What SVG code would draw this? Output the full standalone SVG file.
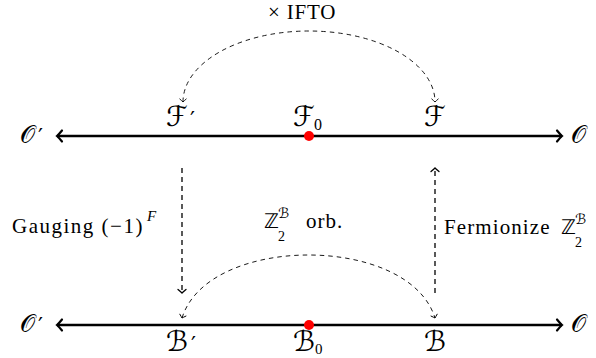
<svg xmlns="http://www.w3.org/2000/svg" width="596" height="358" viewBox="0 0 596 358">
<defs>
<style>
.main{stroke:#000;stroke-width:2.4;fill:none;}
.vdash{stroke:#000;stroke-width:1.3;fill:none;stroke-dasharray:5 4;}
.arc{stroke:#000;stroke-width:0.9;fill:none;stroke-dasharray:4.5 4;}
.rm{font-family:'Liberation Serif','DejaVu Serif',serif;fill:#000;}
.sc{font-family:'DejaVu Serif','DejaVu Sans',serif;fill:#000;}
.pr{font-family:'DejaVu Sans',sans-serif;fill:#000;}
.bb{font-family:'DejaVu Sans',sans-serif;fill:#000;}
</style>
<marker id="big" markerUnits="userSpaceOnUse" markerWidth="14" markerHeight="16" refX="0" refY="0" viewBox="-8 -8 10 16" orient="auto-start-reverse">
<path d="M -5 -5.5 Q -1.8 -1.6 0 0 Q -1.8 1.6 -5 5.5" fill="none" stroke="#000" stroke-width="2.2" stroke-linecap="round"/>
</marker>
<marker id="mid" markerUnits="userSpaceOnUse" markerWidth="10" markerHeight="12" refX="0" refY="0" viewBox="-6 -6 8 12" orient="auto-start-reverse">
<path d="M -3.5 -4 Q -1.2 -1.2 0 0 Q -1.2 1.2 -3.5 4" fill="none" stroke="#000" stroke-width="1.3" stroke-linecap="round"/>
</marker>
<marker id="sm" markerUnits="userSpaceOnUse" markerWidth="10" markerHeight="10" refX="0" refY="0" viewBox="-5 -5 7 10" orient="auto-start-reverse">
<path d="M -3 -3.2 Q -1 -1 0 0 Q -1 1 -3 3.2" fill="none" stroke="#000" stroke-width="0.9" stroke-linecap="round"/>
</marker>
</defs>
<rect width="596" height="358" fill="#fff"/>

<g id="connectors">
<path class="main" d="M 57 136 L 562 136" marker-start="url(#big)" marker-end="url(#big)"/>
<path class="main" d="M 57 325 L 562 325" marker-start="url(#big)" marker-end="url(#big)"/>
<path class="arc" d="M 183 102 A 126 71 0 0 1 435 102" marker-start="url(#sm)" marker-end="url(#sm)"/>
<path class="arc" d="M 182 318 C 208 234 409 234 435 318" marker-start="url(#sm)" marker-end="url(#sm)"/>
<path class="vdash" d="M 182 168 L 182 293" marker-end="url(#mid)"/>
<path class="vdash" d="M 435 293 L 435 168" marker-end="url(#mid)"/>
</g>

<g id="dot-F0"><circle cx="309" cy="136" r="5" fill="#ff0000"/></g>
<g id="dot-B0"><circle cx="309" cy="325" r="5" fill="#ff0000"/></g>

<g id="Oprime-top"><text class="sc" x="20" y="143" font-size="24">𝒪</text><text class="pr" x="38" y="144" font-size="22">′</text></g>
<g id="O-top"><text class="sc" x="571" y="143" font-size="24">𝒪</text></g>
<g id="Fprime"><text class="sc" x="166" y="126" font-size="28">ℱ</text><text class="pr" x="190" y="127" font-size="22">′</text></g>
<g id="F0"><text class="sc" x="293" y="126" font-size="28">ℱ</text><text class="rm" x="314" y="130" font-size="16">0</text></g>
<g id="F"><text class="sc" x="435" y="126" font-size="28" text-anchor="middle">ℱ</text></g>

<g id="Oprime-bot"><text class="sc" x="20" y="332" font-size="24">𝒪</text><text class="pr" x="38" y="333" font-size="22">′</text></g>
<g id="O-bot"><text class="sc" x="571" y="332" font-size="24">𝒪</text></g>
<g id="Bprime"><text class="sc" x="166" y="351" font-size="28">ℬ</text><text class="pr" x="191" y="352" font-size="22">′</text></g>
<g id="B0"><text class="sc" x="293" y="351" font-size="28">ℬ</text><text class="rm" x="315" y="354" font-size="15">0</text></g>
<g id="B"><text class="sc" x="435" y="351" font-size="28" text-anchor="middle">ℬ</text></g>

<g id="label-IFTO"><text class="rm" x="268" y="19" font-size="21" letter-spacing="0.8">× IFTO</text></g>
<g id="label-gauging"><text class="rm" x="12" y="233" font-size="21" letter-spacing="1.5">Gauging (−1)</text><text class="rm" x="147" y="221" font-size="15" font-style="italic">F</text></g>
<g id="label-orb"><text class="bb" x="264" y="228" font-size="20">ℤ</text><text class="rm" x="278" y="241" font-size="14">2</text><text class="sc" x="278" y="218" font-size="14">ℬ</text><text class="rm" x="306" y="228" font-size="21" letter-spacing="1">orb.</text></g>
<g id="label-fermionize"><text class="rm" x="444" y="234" font-size="21" letter-spacing="1.1">Fermionize</text><text class="bb" x="561" y="234" font-size="20">ℤ</text><text class="rm" x="575" y="247" font-size="14">2</text><text class="sc" x="575" y="224" font-size="14">ℬ</text></g>
</svg>
